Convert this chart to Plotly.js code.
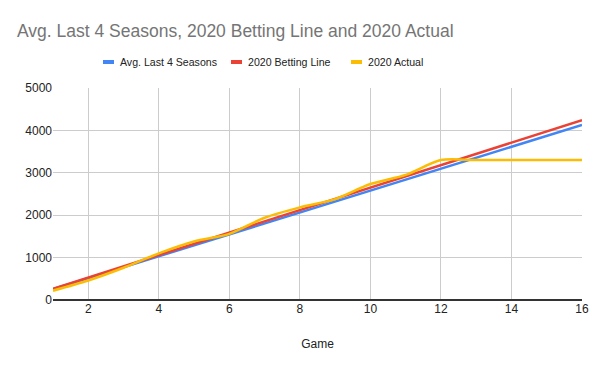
<!DOCTYPE html>
<html>
<head>
<meta charset="utf-8">
<script src="https://cdn.plot.ly/plotly-3.0.1.min.js"></script>
<style>html,body{margin:0;padding:0;background:#fff}#chart{width:600px;height:371px}</style>
</head>
<body>
<div id="chart"></div>
<script>
const games = [1,2,3,4,5,6,7,8,9,10,11,12,13,14,15,16];
const avgLast4 = [258,516,774,1032,1290,1548,1806,2064,2322,2580,2838,3096,3354,3612,3870,4128];
const bettingLine = [265,530,795,1060,1325,1590,1855,2120,2385,2650,2915,3180,3445,3710,3975,4240];
const actual2020 = [220,460,760,1100,1380,1560,1940,2185,2380,2735,2950,3300,3300,3300,3300,3300];
const seriesNames = ["Avg. Last 4 Seasons","2020 Betting Line","2020 Actual"];
const colors = ["#4285f4","#ea4335","#fbbc04"];

const FONT = 'Arial, "Liberation Sans", sans-serif';
const W = 600, H = 371, L = 53, R = 18, T = 88, B = 71;
const pw = W - L - R, ph = H - T - B;
const px2x = px => (px - L) / pw;
const py2y = py => (H - B - py) / ph;

const traces = [avgLast4, bettingLine, actual2020].map((ys,i)=>({
  x: games, y: ys, name: seriesNames[i], type:'scatter', mode:'lines',
  line:{color:colors[i], width:2.5, shape: i===2 ? 'spline' : 'linear', smoothing: 0.8},
  showlegend:false
}));

// custom legend (Google Sheets style short thick markers)
const legendX = [103, 231, 351];
const legendY = 62;
const shapes = legendX.map((lx,i)=>({
  type:'line', xref:'paper', yref:'paper', layer:'above',
  x0: px2x(lx), x1: px2x(lx+11), y0: py2y(legendY), y1: py2y(legendY),
  line:{color:colors[i], width:4}
}));
const annotations = legendX.map((lx,i)=>({
  xref:'paper', yref:'paper', x: px2x(lx+15), y: py2y(legendY), xanchor:'left', yanchor:'middle',
  text: seriesNames[i], showarrow:false, font:{family:FONT, size:10.6, color:'#222'}
}));

const layout = {
  width:W, height:H,
  margin:{l:L, r:R, t:T, b:B},
  paper_bgcolor:'#fff', plot_bgcolor:'#fff',
  font:{family:FONT, size:12, color:'#222'},
  title:{text:'Avg. Last 4 Seasons, 2020 Betting Line and 2020 Actual', xref:'container', x:17/600, xanchor:'left',
    yref:'container', y:1-31/371, yanchor:'middle',
    font:{family:FONT, size:17.5, color:'#757575'}},
  showlegend:false,
  shapes: shapes,
  annotations: annotations,
  xaxis:{range:[1,16], tickvals:[2,4,6,8,10,12,14,16], showgrid:true, gridcolor:'#cccccc', zeroline:false, showline:false, ticks:'',
    title:{text:'Game', font:{family:FONT, size:12, color:'#222'}, standoff:24}, fixedrange:true},
  yaxis:{range:[0,5000], tickvals:[0,1000,2000,3000,4000,5000], showgrid:true, gridcolor:'#cccccc', zeroline:true, zerolinecolor:'#333', zerolinewidth:1.5, showline:false, ticks:'', ticksuffix:'  ', fixedrange:true}
};
Plotly.newPlot('chart', traces, layout, {displayModeBar:false, staticPlot:true});
</script>
</body>
</html>
